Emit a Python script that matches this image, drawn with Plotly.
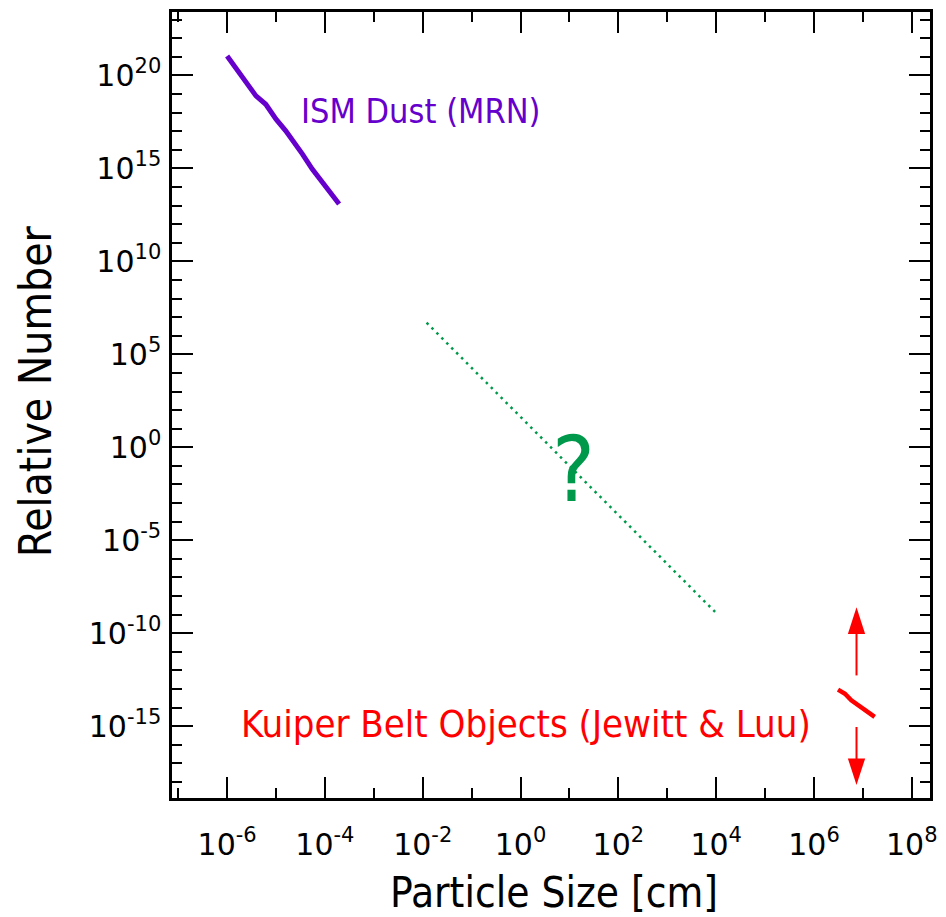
import plotly.graph_objects as go

# ---- data ----
ism_size = [1.0e-6, 1.78e-6, 2.63e-6, 3.89e-6, 6.17e-6, 1.0e-5, 1.58e-5,
            2.14e-5, 3.47e-5, 5.5e-5, 8.9e-5, 1.32e-4, 1.95e-4]
ism_number = [1.1e21, 1.4e20, 3.3e19, 7.9e18, 2.8e18, 4.4e17, 1.05e17,
              3.7e16, 5.9e15, 9.1e14, 1.8e14, 4.2e13, 1.2e13]

gap_size = [1.2e-2, 1.1e4]
gap_number = [5.0e6, 9.5e-10]

kbo_size = [3.1e6, 4.3e6, 5.8e6, 8.0e6, 1.09e7, 1.38e7, 1.74e7]
kbo_number = [9.3e-14, 5.6e-14, 2.5e-14, 1.35e-14, 7.2e-15, 4.8e-15, 3.2e-15]

arrow_size = [7.4e6, 7.4e6]
arrow_up_number = [5.4e-13, 2.5e-9]
arrow_down_number = [9.1e-16, 6.9e-19]

x_major_exp = [-6, -4, -2, 0, 2, 4, 6, 8]
x_minor_exp = [-7, -5, -3, -1, 1, 3, 5, 7]
y_major_exp = [-15, -10, -5, 0, 5, 10, 15, 20]
y_minor_exp = list(range(-18, 24))

PURPLE = "#6600CC"
GREEN = "#00994C"
RED = "#FF0000"
TICKFONT = dict(family="DejaVu Sans", size=30, color="black")
TEXTFONT = "Liberation Sans Narrow, DejaVu Sans Condensed, Liberation Sans, sans-serif"

fig = go.Figure()
fig.add_trace(go.Scatter(x=ism_size, y=ism_number, mode="lines",
                         line=dict(color=PURPLE, width=5), showlegend=False))
fig.add_trace(go.Scatter(x=gap_size, y=gap_number, mode="lines",
                         line=dict(color=GREEN, width=2.5, dash="2.5px,4.5px"),
                         showlegend=False))
fig.add_trace(go.Scatter(x=kbo_size, y=kbo_number, mode="lines",
                         line=dict(color=RED, width=4.5), showlegend=False))
for ys in (arrow_up_number, arrow_down_number):
    fig.add_trace(go.Scatter(x=arrow_size, y=ys, mode="lines+markers",
                             line=dict(color=RED, width=2),
                             marker=dict(symbol="arrow", size=28, color=RED,
                                         angleref="previous", line=dict(width=0)),
                             showlegend=False))

W, H = 946, 917
L, R, T, B = 172, 12, 9, 119

fig.update_xaxes(
    type="log", range=[-7.127, 8.372],
    tickvals=[10.0 ** e for e in x_major_exp],
    ticktext=["10<sup>%d</sup>" % e for e in x_major_exp],
    ticks="inside", ticklen=21, tickwidth=2, tickcolor="black",
    minor=dict(tickvals=[10.0 ** e for e in x_minor_exp], ticks="inside",
               ticklen=10, tickwidth=2, tickcolor="black", showgrid=False),
    showline=True, linewidth=2.5, linecolor="black", mirror="allticks",
    showgrid=False, zeroline=False, tickfont=TICKFONT, ticklabelstandoff=18,
)
fig.update_yaxes(
    type="log", range=[-18.86, 23.41],
    tickvals=[10.0 ** e for e in y_major_exp],
    ticktext=["10<sup>%d</sup>" % e for e in y_major_exp],
    ticks="inside", ticklen=21, tickwidth=2, tickcolor="black",
    minor=dict(tickvals=[10.0 ** e for e in y_minor_exp], ticks="inside",
               ticklen=10, tickwidth=2, tickcolor="black", showgrid=False),
    showline=True, linewidth=2.5, linecolor="black", mirror="allticks",
    showgrid=False, zeroline=False, tickfont=TICKFONT, ticklabelstandoff=2,
)

def px2paper(px, py):
    return (px - L) / (W - L - R), (H - B - py) / (H - T - B)

annots = [
    ("ISM Dust (MRN)", 422, 108, PURPLE, 34, 0),
    ("Kuiper Belt Objects (Jewitt &amp; Luu)", 528, 724, RED, 38, 0),
    ("?", 576, 468, GREEN, 90, 0),
    ("Particle Size [cm]", 556, 893, "black", 42, 0),
    ("Relative Number", 35, 390, "black", 44, -90),
]
for text, px, py, col, size, ang in annots:
    ax_, ay_ = px2paper(px, py)
    fig.add_annotation(text=text, x=ax_, y=ay_, xref="paper", yref="paper",
                       showarrow=False, xanchor="center", yanchor="middle",
                       textangle=ang,
                       font=dict(family=TEXTFONT, size=size, color=col))

fig.update_layout(
    width=W, height=H, margin=dict(l=L, r=R, t=T, b=B),
    paper_bgcolor="white", plot_bgcolor="white", showlegend=False,
)

fig.write_html("out.html")
